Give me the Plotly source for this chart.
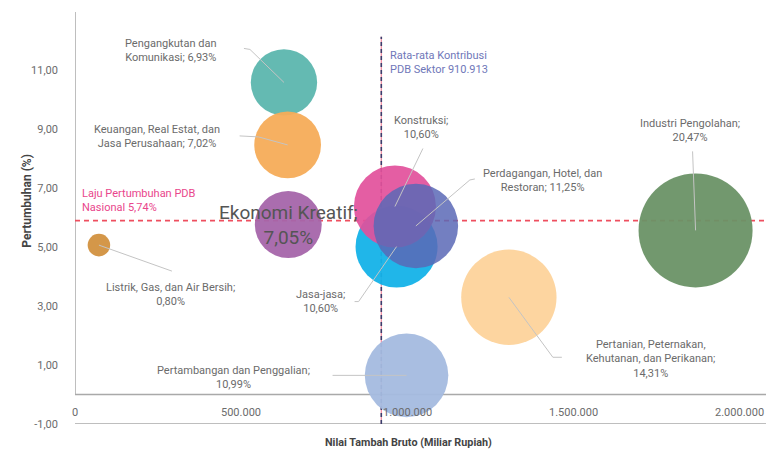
import plotly.graph_objects as go

# ---------------- data ----------------
sectors = [
    "Jasa-jasa",
    "Pengangkutan dan Komunikasi",
    "Keuangan, Real Estat, dan Jasa Perusahaan",
    "Ekonomi Kreatif",
    "Listrik, Gas, dan Air Bersih",
    "Konstruksi",
    "Perdagangan, Hotel, dan Restoran",
    "Pertambangan dan Penggalian",
    "Pertanian, Peternakan, Kehutanan, dan Perikanan",
    "Industri Pengolahan",
]
nilai_tambah = [968000, 629000, 640000, 642000, 72000, 963000, 1026000, 998000, 1306000, 1868000]
pertumbuhan = [5.02, 10.59, 8.47, 5.77, 5.07, 6.38, 5.72, 0.65, 3.30, 5.57]
kontribusi = [10.60, 6.93, 7.02, 7.05, 0.80, 10.60, 11.25, 10.99, 14.31, 20.47]
colors = ["#14b2e8", "#5cb6ae", "#f6ac58", "#a565aa", "#d2913f", "#e2509b",
          "#5b69b6", "#a4badf", "#fdd39b", "#6a9266"]
opacities = [0.95, 0.95, 0.95, 0.95, 0.95, 0.92, 0.85, 0.95, 0.95, 0.95]

pdb_growth_line = 5.9          # national GDP growth guide (position as drawn)
avg_contribution_line = 922000 # average sector contribution guide (position as drawn, labelled 910.913)

x_tickvals = [0, 500000, 1000000, 1500000, 2000000]
x_ticktext = ["0", "500.000", "1.000.000", "1.500.000", "2.000.000"]
y_tickvals = [-1, 1, 3, 5, 7, 9, 11]
y_ticktext = ["-1,00", "1,00", "3,00", "5,00", "7,00", "9,00", "11,00"]

X_MAX = 2080000
Y_MIN, Y_MAX = -1, 12.98

# labels: text, position (data), anchor, leader path (pixel offsets from bubble centre, y up)
labels = {
    "Pengangkutan dan Komunikasi": ("Pengangkutan dan<br>Komunikasi; 6,93%", 288000, 11.69, "center",
                                    "M0,0 L-34,33 L-40,34"),
    "Keuangan, Real Estat, dan Jasa Perusahaan": ("Keuangan, Real Estat, dan<br>Jasa Perusahaan; 7,02%", 248000, 8.77, "center",
                                                  "M0,0 L-29,8 L-48,9"),
    "Listrik, Gas, dan Air Bersih": ("Listrik, Gas, dan Air Bersih;<br>0,80%", 288000, 3.39, "center",
                                     "M0,0 L73,-26"),
    "Jasa-jasa": ("Jasa-jasa;<br>10,60%", 738000, 3.15, "center",
                  "M0,0 L-38,-55 L-42,-55"),
    "Pertambangan dan Penggalian": ("Pertambangan dan Penggalian;<br>10,99%", 476000, 0.59, "center",
                                    "M0,0 L-74,0"),
    "Pertanian, Peternakan, Kehutanan, dan Perikanan": ("Pertanian, Peternakan,<br>Kehutanan, dan Perikanan;<br>14,31%", 1733000, 1.21, "center",
                                                        "M0,0 L44,-60 L53,-60"),
    "Industri Pengolahan": ("Industri Pengolahan;<br>20,47%", 1851000, 8.96, "center",
                            "M0,0 L-3,79"),
    "Konstruksi": ("Konstruksi;<br>10,60%", 1041000, 9.06, "center",
                   "M0,0 L28,58"),
    "Perdagangan, Hotel, dan Restoran": ("Perdagangan, Hotel, dan<br>Restoran; 11,25%", 1408000, 7.27, "center",
                                         "M0,0 L54,46 L59,47"),
}

FONT = "Roboto"
TXT = "#6b6b6b"
AXIS = "#a9a9a9"

fig = go.Figure()
for s, x, y, k, c, o in zip(sectors, nilai_tambah, pertumbuhan, kontribusi, colors, opacities):
    fig.add_trace(go.Scatter(
        x=[x], y=[y], mode="markers", name=s,
        marker=dict(size=[k], sizemode="area", sizeref=0.00315, color=c,
                    opacity=o, line=dict(width=0)),
        hoverinfo="text", text=[s],
    ))

shapes = []
# axis lines
shapes.append(dict(type="line", xref="x", yref="y", x0=0, x1=X_MAX, y0=Y_MIN, y1=Y_MIN,
                   line=dict(color=AXIS, width=1.5), layer="below"))
shapes.append(dict(type="line", xref="x", yref="y", x0=0, x1=X_MAX, y0=0, y1=0,
                   line=dict(color=AXIS, width=1.5), layer="below"))
shapes.append(dict(type="line", xref="x", yref="y", x0=0, x1=0, y0=0, y1=Y_MAX,
                   line=dict(color=AXIS, width=1.5), layer="below"))
# guide lines
shapes.append(dict(type="line", xref="x", yref="y", x0=0, x1=X_MAX, y0=pdb_growth_line, y1=pdb_growth_line,
                   line=dict(color="#ee4f5f", width=1.6, dash="5px,4px"), layer="below"))
shapes.append(dict(type="line", xref="x", yref="y", x0=avg_contribution_line, x1=avg_contribution_line,
                   y0=Y_MIN, y1=12.14, line=dict(color="#f08aa0", width=1.2), layer="below"))
shapes.append(dict(type="line", xref="x", yref="y", x0=avg_contribution_line, x1=avg_contribution_line,
                   y0=Y_MIN, y1=12.14, line=dict(color="#3b3e6c", width=1.6, dash="4px,3px"), layer="below"))

annotations = []
for s, x, y in zip(sectors, nilai_tambah, pertumbuhan):
    if s not in labels:
        continue
    txt, lx, ly, anc, path = labels[s]
    shapes.append(dict(type="path", xref="x", yref="y", xsizemode="pixel", ysizemode="pixel",
                       xanchor=x, yanchor=y, path=path,
                       line=dict(color="#c4c4c4", width=1), layer="above"))
    annotations.append(dict(x=lx, y=ly, xref="x", yref="y", text=txt, showarrow=False,
                            xanchor=anc, yanchor="middle", align="center",
                            font=dict(family=FONT, size=11, color=TXT)))

# x tick labels sit between the y=0 line and the y=-1 base line
for tv, tt in zip(x_tickvals, x_ticktext):
    annotations.append(dict(x=tv, y=-0.62, xref="x", yref="y", text=tt, showarrow=False,
                            xanchor="center", yanchor="middle",
                            font=dict(family=FONT, size=11, color=TXT)))

annotations.append(dict(x=642000, y=5.74, xref="x", yref="y", text="Ekonomi Kreatif;<br>7,05%",
                        showarrow=False, xanchor="center", yanchor="middle", align="center",
                        font=dict(family=FONT, size=19, color="#555555")))
annotations.append(dict(x=16500, y=6.60, xref="x", yref="y", text="Laju Pertumbuhan PDB<br>Nasional 5,74%",
                        showarrow=False, xanchor="left", yanchor="middle", align="left",
                        font=dict(family=FONT, size=11, color="#e9468c")))
annotations.append(dict(x=942500, y=11.28, xref="x", yref="y", text="Rata-rata Kontribusi<br>PDB Sektor 910.913",
                        showarrow=False, xanchor="left", yanchor="middle", align="left",
                        font=dict(family=FONT, size=11, color="#6f77b9")))
# axis titles
annotations.append(dict(x=0.482, y=-0.0454, xref="paper", yref="paper", yanchor="middle",
                        text="<b>Nilai Tambah Bruto (Miliar Rupiah)</b>", showarrow=False,
                        font=dict(family=FONT, size=10.8, color="#444444")))
annotations.append(dict(x=-0.0695, y=0.542, xref="paper", yref="paper", textangle=-90,
                        xanchor="center", yanchor="middle",
                        text="<b>Pertumbuhan (%)</b>", showarrow=False,
                        font=dict(family=FONT, size=12, color="#444444")))

fig.update_layout(
    width=766, height=452,
    margin=dict(l=75, r=0, t=12, b=28),
    paper_bgcolor="white", plot_bgcolor="white",
    showlegend=False,
    shapes=shapes, annotations=annotations,
    font=dict(family=FONT, color=TXT),
    xaxis=dict(range=[0, X_MAX], showgrid=False, zeroline=False, showline=False,
               showticklabels=False, ticks="", automargin=False),
    yaxis=dict(range=[Y_MIN, Y_MAX], showgrid=False, zeroline=False, showline=False,
               tickvals=y_tickvals, ticktext=y_ticktext, ticks="", ticklabelstandoff=16,
               automargin=False, tickfont=dict(family=FONT, size=11, color=TXT)),
)

fig.write_html("out.html", config={"displayModeBar": False},
               post_script="document.body.style.margin='0';document.body.style.overflow='hidden';")
